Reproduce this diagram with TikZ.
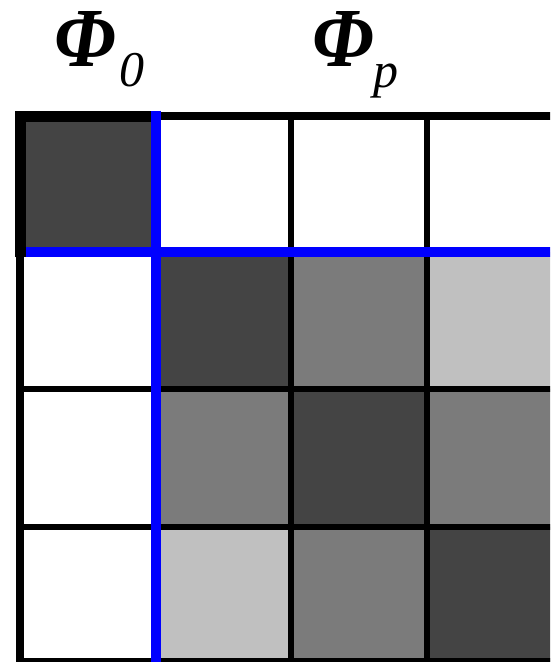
\documentclass[tikz,border=0pt]{standalone}
\usepackage{fontspec}
\setmainfont{Liberation Serif}
\definecolor{cdark}{RGB}{68,68,68}
\definecolor{cmid}{RGB}{123,123,123}
\definecolor{clight}{RGB}{192,192,192}
\definecolor{cblue}{RGB}{0,0,255}
\begin{document}
\begin{tikzpicture}[x=1pt,y=-1pt,
  gridline/.style={black,line width=5.5pt},
  outerline/.style={black,line width=8pt},
  thickline/.style={black,line width=11pt},
  blueline/.style={cblue,line width=10pt},
  biglabel/.style={anchor=base west,inner sep=0pt,xscale=0.93,font=\fontsize{84}{84}\selectfont\bfseries\itshape},
  sublabel/.style={anchor=base west,inner sep=0pt,font=\fontsize{50}{50}\selectfont\itshape}]
\useasboundingbox (0,0) rectangle (550,662);
\clip (0,0) rectangle (550,662);
\fill[white] (0,0) rectangle (550,662);
% cells
\fill[cdark]  (20,116) rectangle (156,252);
\fill[cdark]  (156,252) rectangle (291,389);
\fill[cmid]   (291,252) rectangle (427,389);
\fill[clight] (427,252) rectangle (563,389);
\fill[cmid]   (156,389) rectangle (291,527);
\fill[cdark]  (291,389) rectangle (427,527);
\fill[cmid]   (427,389) rectangle (563,527);
\fill[clight] (156,527) rectangle (291,663);
\fill[cmid]   (291,527) rectangle (427,663);
\fill[cdark]  (427,527) rectangle (563,663);
% inner grid
\draw[gridline] (291,116) -- (291,663);
\draw[gridline] (427,116) -- (427,663);
\draw[gridline] (20,389) -- (563,389);
\draw[gridline] (20,527) -- (563,527);
% outer border
\draw[outerline] (20,116) -- (563,116);
\draw[outerline] (20,116) -- (20,666);
\draw[outerline] (20,662) -- (563,662);
% blue lines
\draw[blueline] (26,252.3) -- (560,252.3);
\draw[thickline] (20.5,257.3) -- (20.5,116.2) -- (151,116.2);
\draw[blueline] (156,110.7) -- (156,666);
% labels
\node[biglabel] (phiA) at (54,66) {Φ};
\node[sublabel] (subA) at (119,86) {0};
\node[biglabel] (phiB) at (312,66) {Φ};
\node[sublabel] (subB) at (373,87) {p};
\end{tikzpicture}
\end{document}
